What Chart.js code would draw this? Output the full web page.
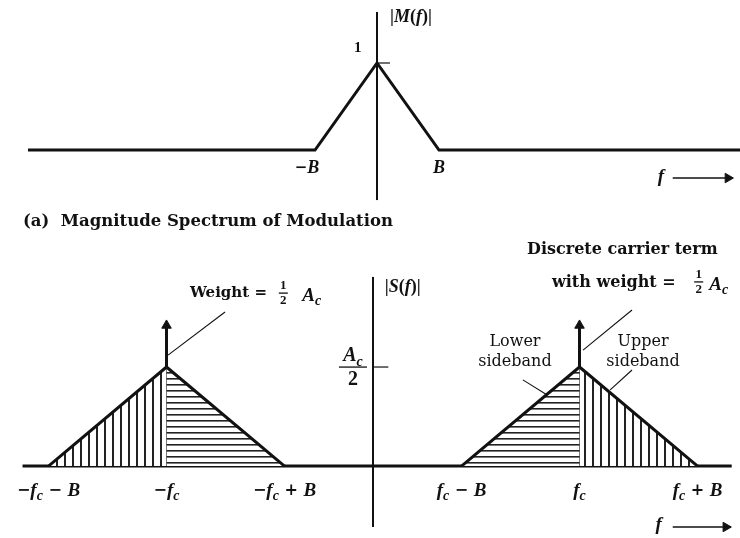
<!DOCTYPE html>
<html lang="en">
<head>
<meta charset="UTF-8">
<title>AM Spectrum</title>
<script src="https://cdn.jsdelivr.net/npm/chart.js"></script>
<style>
  body { margin: 0; background: #fff; width: 740px; height: 538px; position: relative; overflow: hidden; }
  .panel { position: absolute; left: 0; width: 740px; }
  #top { top: 0; height: 240px; }
  #bottom { top: 240px; height: 298px; }
</style>
</head>
<body>
<div class="panel" id="top"><canvas id="msgChart"></canvas></div>
<div class="panel" id="bottom"><canvas id="amChart"></canvas></div>

<script>
// frequencies in units of B, carrier sits at fc = 1.75 B; Ac/2 = 1
const B = 1;
const fc = 1.75;

// (a) |M(f)| : unit triangle between -B and B
const msgF   = [-5.63, -B, 0, B, 5.86];
const msgMag = [0, 0, 1, 0, 0];
const msgTickValues = [-B, B];
const msgTickLabels = ['−B', 'B'];

// (b) |S(f)| : sidebands around -fc and +fc, peak Ac/2
const lowerNegF = [-fc - B, -fc];   // outer half around -fc
const upperNegF = [-fc, -fc + B];
const lowerPosF = [fc - B, fc];
const upperPosF = [fc, fc + B];
const sideMag   = [0, 1];
const carrierWeight = 1.42;           // height of the impulse arrows
const amTickValues = [-fc - B, -fc, -fc + B, fc - B, fc, fc + B];
const amTickLabels = ['−f_c − B', '−f_c', '−f_c + B', 'f_c − B', 'f_c', 'f_c + B'];

const INK = '#111';
const SERIF = "'DejaVu Serif', serif";
const MATH = "'Liberation Serif', serif";

function pts(xs, ys) { return xs.map((x, i) => ({ x: x, y: ys[i] })); }

function hatch(vertical, gap, lw) {
  const c = document.createElement('canvas');
  c.width = gap; c.height = gap;
  const g = c.getContext('2d');
  g.fillStyle = '#fff';
  g.fillRect(0, 0, gap, gap);
  g.fillStyle = '#222';
  if (vertical) g.fillRect(0, 0, lw, gap); else g.fillRect(0, 0, gap, lw);
  return g.createPattern(c, 'repeat');
}

function line(data, width, extra) {
  return Object.assign({ data: data, showLine: true, borderColor: INK, borderWidth: width,
    pointRadius: 0, fill: false, tension: 0 }, extra || {});
}

function arrow(data, width, rot) {
  return line(data, width, { pointRadius: [0, 5.5], pointStyle: 'triangle', pointRotation: rot,
    pointBackgroundColor: INK, pointBorderColor: INK, pointBorderWidth: 1 });
}

// math text: letters italic, "_x" subscript, operators and spaces upright
function drawMath(ctx, str, x, y, size, align) {
  const runs = [];
  for (let i = 0; i < str.length; i++) {
    let ch = str[i];
    if (ch === '_') { runs.push({ t: str[++i], f: `italic bold ${Math.round(size * 0.72)}px ${MATH}`, dy: size * 0.3 }); continue; }
    if (/[A-Za-z]/.test(ch)) runs.push({ t: ch, f: `italic bold ${size}px ${MATH}`, dy: 0 });
    else if (/[0-9()|]/.test(ch)) runs.push({ t: ch, f: `bold ${size}px ${MATH}`, dy: 0 });
    else runs.push({ t: ch, f: `bold ${Math.round(size * 0.85)}px ${SERIF}`, dy: 0 });
  }
  let w = 0;
  runs.forEach(r => { ctx.font = r.f; w += ctx.measureText(r.t).width; });
  let cx = align === 'center' ? x - w / 2 : (align === 'right' ? x - w : x);
  ctx.textAlign = 'left';
  runs.forEach(r => { ctx.font = r.f; ctx.fillText(r.t, cx, y + r.dy); cx += ctx.measureText(r.t).width; });
  return w;
}

function drawFraction(ctx, num, den, cx, cy, size, barW) {
  drawMath(ctx, num, cx, cy - size * 0.55, size, 'center');
  drawMath(ctx, den, cx, cy + size * 0.62, size, 'center');
  ctx.fillRect(cx - barW / 2, cy - 0.6, barW, 1.3);
}

function drawText(ctx, str, x, y, size, weight, align) {
  ctx.font = `${weight} ${size}px ${SERIF}`;
  ctx.textAlign = align || 'left';
  ctx.fillText(str, x, y);
}

const labelPlugin = {
  id: 'labels',
  afterDatasetsDraw(chart, args, opts) {
    const ctx = chart.ctx, xs = chart.scales.x, ys = chart.scales.y;
    const px = v => xs.getPixelForValue(v), py = v => ys.getPixelForValue(v);
    ctx.save();
    ctx.fillStyle = INK;
    ctx.textBaseline = 'middle';
    opts.draw(ctx, px, py);
    ctx.restore();
  }
};

// ---------- (a) message spectrum ----------
new Chart(document.getElementById('msgChart'), {
  type: 'scatter',
  data: {
    datasets: [
      line(pts(msgF, msgMag), 3),
      line([{ x: 0, y: -0.575 }, { x: 0, y: 1.586 }], 2),
      line([{ x: 0, y: 1 }, { x: 0.21, y: 1 }], 1.2),
      arrow([{ x: 4.77, y: -0.322 }, { x: 5.66, y: -0.322 }], 1.6, 90)
    ]
  },
  options: {
    responsive: true, maintainAspectRatio: false, animation: false,
    layout: { padding: 0, autoPadding: false },
    plugins: {
      legend: { display: false }, tooltip: { enabled: false },
      labels: {
        draw(ctx, px, py) {
          drawMath(ctx, '|M(f)|', px(0.21), py(1.53), 18, 'left');
          drawMath(ctx, '1', px(-0.31), py(1.17), 15, 'center');
          msgTickValues.forEach((v, i) => drawMath(ctx, msgTickLabels[i], px(v) - (v < 0 ? 8 : 0), py(-0.21), 18, 'center'));
          drawMath(ctx, 'f', px(4.58), py(-0.31), 19, 'center');
          drawText(ctx, '(a)  Magnitude Spectrum of Modulation', px(-5.71), py(-0.828), 16.5, 'bold');
        }
      }
    },
    scales: {
      x: { type: 'linear', display: false, min: -6.081, max: 5.855 },
      y: { display: false, min: -1.034, max: 1.724 }
    }
  },
  plugins: [labelPlugin]
});

// ---------- (b) AM signal spectrum ----------
const vLines = hatch(true, 8, 2);
const hLines = hatch(false, 6, 1.6);

new Chart(document.getElementById('amChart'), {
  type: 'scatter',
  data: {
    datasets: [
      line(pts(lowerNegF, sideMag), 3, { fill: 'origin', backgroundColor: vLines }),
      line(pts(upperNegF, sideMag.slice().reverse()), 3, { fill: 'origin', backgroundColor: hLines }),
      line(pts(lowerPosF, sideMag), 3, { fill: 'origin', backgroundColor: hLines }),
      line(pts(upperPosF, sideMag.slice().reverse()), 3, { fill: 'origin', backgroundColor: vLines }),
      line([{ x: -2.97, y: 0 }, { x: 3.04, y: 0 }], 3),
      line([{ x: 0, y: -0.616 }, { x: 0, y: 1.91 }], 2),
      line([{ x: 0, y: 1 }, { x: 0.13, y: 1 }], 1.2),
      arrow([{ x: -fc, y: 0 }, { x: -fc, y: carrierWeight }], 3, 0),
      arrow([{ x: fc, y: 0 }, { x: fc, y: carrierWeight }], 3, 0),
      // leader lines
      line([{ x: -1.737, y: 1.12 }, { x: -1.254, y: 1.556 }], 1.1),
      line([{ x: 1.78, y: 1.17 }, { x: 2.195, y: 1.576 }], 1.1),
      line([{ x: 1.27, y: 0.87 }, { x: 1.5, y: 0.70 }], 1.1),
      line([{ x: 2.195, y: 0.97 }, { x: 2.01, y: 0.77 }], 1.1),
      arrow([{ x: 2.54, y: -0.616 }, { x: 2.99, y: -0.616 }], 1.6, 90)
    ]
  },
  options: {
    responsive: true, maintainAspectRatio: false, animation: false,
    layout: { padding: 0, autoPadding: false },
    plugins: {
      legend: { display: false }, tooltip: { enabled: false },
      labels: {
        draw(ctx, px, py) {
          drawMath(ctx, '|S(f)|', px(0.10), py(1.80), 18, 'left');
          drawFraction(ctx, 'A_c', '2', px(-0.17), py(1), 20, 28);

          drawText(ctx, 'Weight =', px(-1.551), py(1.747), 15, 'bold');
          drawFraction(ctx, '1', '2', px(-0.76), py(1.747), 13, 9);
          drawMath(ctx, 'A_c', px(-0.60), py(1.72), 19, 'left');

          drawText(ctx, 'Discrete carrier term', px(1.305), py(2.18), 16, 'bold');
          drawText(ctx, 'with weight =', px(1.517), py(1.85), 16, 'bold');
          drawFraction(ctx, '1', '2', px(2.76), py(1.86), 13, 9);
          drawMath(ctx, 'A_c', px(2.85), py(1.83), 19, 'left');

          drawText(ctx, 'Lower', px(1.203), py(1.253), 16, 'normal', 'center');
          drawText(ctx, 'sideband', px(1.203), py(1.05), 16, 'normal', 'center');
          drawText(ctx, 'Upper', px(2.288), py(1.253), 16, 'normal', 'center');
          drawText(ctx, 'sideband', px(2.288), py(1.05), 16, 'normal', 'center');

          amTickValues.forEach((v, i) => drawMath(ctx, amTickLabels[i], px(v), py(-0.25), 19, 'center'));
          drawMath(ctx, 'f', px(2.42), py(-0.60), 19, 'center');
        }
      }
    },
    scales: {
      x: { type: 'linear', display: false, min: -3.161, max: 3.110 },
      y: { display: false, min: -0.727, max: 2.283 }
    }
  },
  plugins: [labelPlugin]
});
</script>
</body>
</html>
